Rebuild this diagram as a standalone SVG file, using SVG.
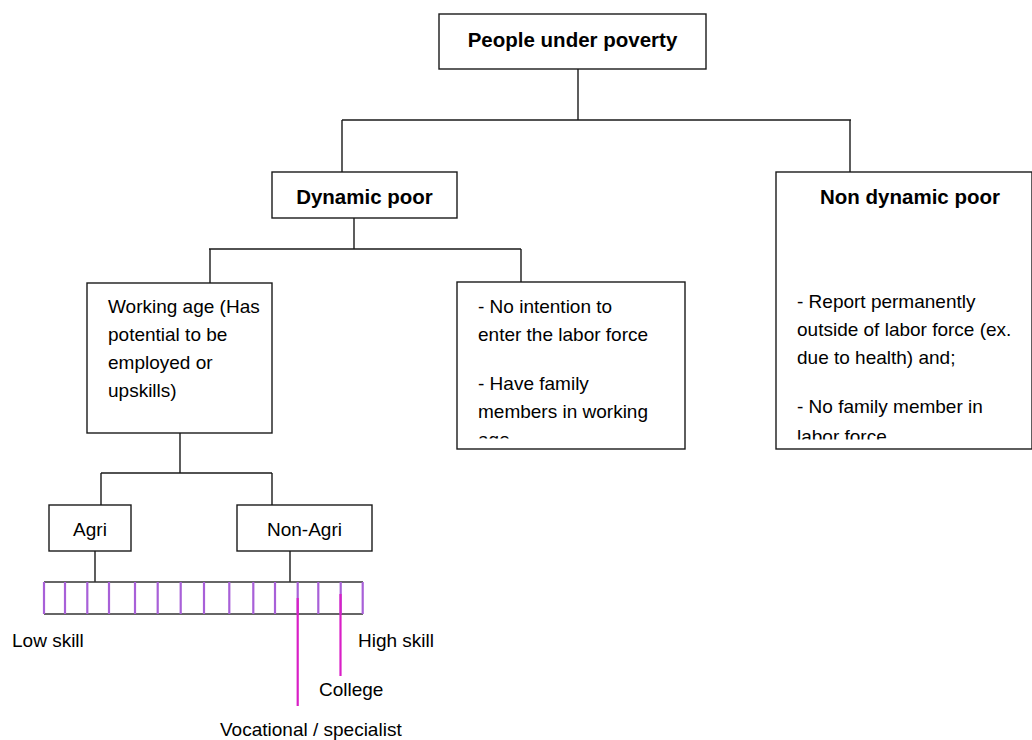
<svg xmlns="http://www.w3.org/2000/svg" width="1032" height="740" viewBox="0 0 1032 740">
  <style>
    .box { fill: #ffffff; stroke: #1a1a1a; stroke-width: 1.4; }
    .link { fill: none; stroke: #1a1a1a; stroke-width: 1.4; }
    .title { font-family: "Liberation Sans", Arial, sans-serif; font-weight: bold; font-size: 20.5px; fill: #000; text-anchor: middle; }
    .body { font-family: "Liberation Sans", Arial, sans-serif; font-size: 19px; fill: #000; }
    .mid { text-anchor: middle; }
    .tick { stroke: #a860d8; stroke-width: 2.2; }
    .mark { stroke: #d91fc6; stroke-width: 2.2; }
    .rail { stroke: #333; stroke-width: 1.5; }
  </style>
  <defs>
    <clipPath id="clipMid"><rect x="458" y="283" width="226" height="155.5"/></clipPath>
    <clipPath id="clipRight"><rect x="777" y="173" width="254" height="266.5"/></clipPath>
  </defs>

  <rect width="1032" height="740" fill="#ffffff"/>

  <!-- tree connectors -->
  <g id="connectors">
    <path class="link" d="M578 69 V120 M342 120 H851 M342 120 V172 M850 120 V172"/>
    <path class="link" d="M354 218 V249 M209 249 H521 M210 249 V283 M521 249 V282"/>
    <path class="link" d="M180 433 V473 M101 473 H272 M101 473 V505 M272 473 V505"/>
    <path class="link" d="M95 551 V582 M290 551 V582"/>
  </g>

  <g id="node-root">
    <rect class="box" x="439" y="14" width="267" height="55"/>
    <text class="title" x="572.5" y="47">People under poverty</text>
  </g>

  <g id="node-dynamic">
    <rect class="box" x="272" y="172" width="185" height="46"/>
    <text class="title" x="364.5" y="204">Dynamic poor</text>
  </g>

  <g id="node-nondynamic">
    <rect class="box" x="776" y="172" width="256" height="277"/>
    <text class="title" x="910" y="204">Non dynamic poor</text>
    <g clip-path="url(#clipRight)">
      <text class="body" x="797" y="308">- Report permanently</text>
      <text class="body" x="797" y="336">outside of labor force (ex.</text>
      <text class="body" x="797" y="364">due to health) and;</text>
      <text class="body" x="797" y="413">- No family member in</text>
      <text class="body" x="797" y="443">labor force</text>
    </g>
  </g>

  <g id="node-working">
    <rect class="box" x="87" y="283" width="185" height="150"/>
    <text class="body" x="108" y="313">Working age (Has</text>
    <text class="body" x="108" y="341">potential to be</text>
    <text class="body" x="108" y="369">employed or</text>
    <text class="body" x="108" y="397">upskills)</text>
  </g>

  <g id="node-nointention">
    <rect class="box" x="457" y="282" width="228" height="167"/>
    <g clip-path="url(#clipMid)">
      <text class="body" x="478" y="313">- No intention to</text>
      <text class="body" x="478" y="341">enter the labor force</text>
      <text class="body" x="478" y="390">- Have family</text>
      <text class="body" x="478" y="418">members in working</text>
      <text class="body" x="478" y="446">age</text>
    </g>
  </g>

  <g id="node-agri">
    <rect class="box" x="49" y="505" width="82" height="46"/>
    <text class="body mid" x="90" y="536">Agri</text>
  </g>

  <g id="node-nonagri">
    <rect class="box" x="237" y="505" width="135" height="46"/>
    <text class="body mid" x="304.5" y="536">Non-Agri</text>
  </g>

  <!-- skill scale -->
  <g id="skill-scale">
    <line class="rail" x1="44" y1="582" x2="363" y2="582"/>
    <line class="rail" x1="44" y1="614" x2="363" y2="614"/>
    <g class="tick">
      <line x1="44" y1="582" x2="44" y2="614"/>
      <line x1="65" y1="582" x2="65" y2="614"/>
      <line x1="87.3" y1="582" x2="87.3" y2="614"/>
      <line x1="109" y1="582" x2="109" y2="614"/>
      <line x1="135" y1="582" x2="135" y2="614"/>
      <line x1="157.7" y1="582" x2="157.7" y2="614"/>
      <line x1="180.7" y1="582" x2="180.7" y2="614"/>
      <line x1="204" y1="582" x2="204" y2="614"/>
      <line x1="229.3" y1="582" x2="229.3" y2="614"/>
      <line x1="253.3" y1="582" x2="253.3" y2="614"/>
      <line x1="275" y1="582" x2="275" y2="614"/>
      <line x1="297.7" y1="582" x2="297.7" y2="614"/>
      <line x1="318.3" y1="582" x2="318.3" y2="614"/>
      <line x1="340.7" y1="582" x2="340.7" y2="614"/>
      <line x1="362.7" y1="582" x2="362.7" y2="614"/>
    </g>
    <line class="mark" x1="297.7" y1="598" x2="297.7" y2="706"/>
    <line class="mark" x1="340.5" y1="594" x2="340.5" y2="676"/>
    <text class="body" x="12" y="647">Low skill</text>
    <text class="body" x="358" y="647">High skill</text>
    <text class="body" x="319" y="696">College</text>
    <text class="body" x="220" y="736">Vocational / specialist</text>
  </g>
</svg>
